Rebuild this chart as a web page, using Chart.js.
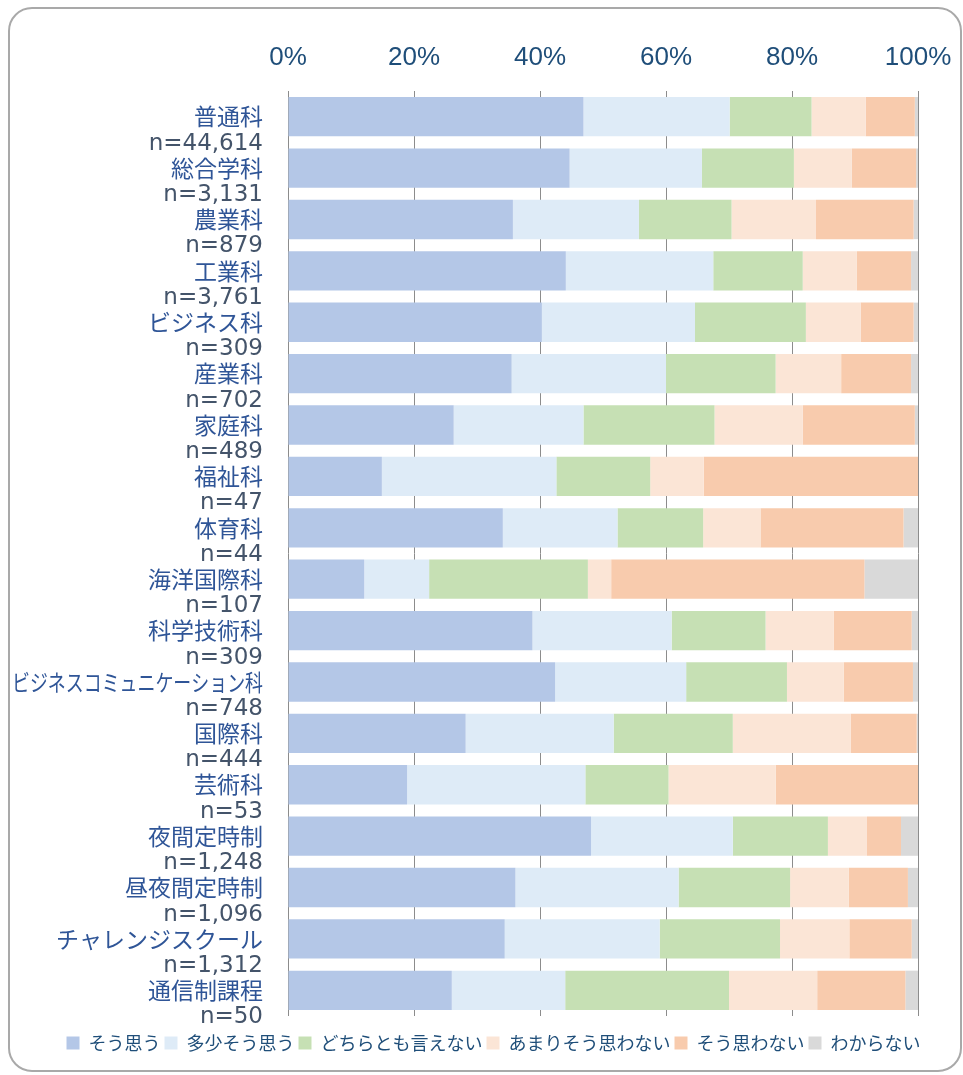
<!DOCTYPE html>
<html>
<head>
<meta charset="utf-8">
<script src="https://cdn.jsdelivr.net/npm/chart.js@4/dist/chart.umd.min.js"></script>
<style>
    html, body { margin: 0; padding: 0; background: #ffffff; }
    #frame {
        position: absolute; left: 8px; top: 7px; width: 954px; height: 1065px;
        box-sizing: border-box; border: 2px solid #a9a9a9; border-radius: 24px;
    }
    #chart { position: absolute; left: 0; top: 0; }
</style>
</head>
<body>
<div id="frame"></div>
<canvas id="chart" width="963" height="1075"></canvas>
<script>
    var categories = ['普通科', '総合学科', '農業科', '工業科', 'ビジネス科', '産業科', '家庭科', '福祉科', '体育科',
        '海洋国際科', '科学技術科', 'ビジネスコミュニケーション科', '国際科', '芸術科', '夜間定時制', '昼夜間定時制',
        'チャレンジスクール', '通信制課程'];
    var sampleSizes = [44614, 3131, 879, 3761, 309, 702, 489, 47, 44, 107, 309, 748, 444, 53, 1248, 1096, 1312, 50];

    var seriesLabels = ['そう思う', '多少そう思う', 'どちらとも言えない', 'あまりそう思わない', 'そう思わない', 'わからない'];

    // shares in percent, one value per category
    var souOmou = [46.9, 44.7, 35.7, 44.1, 40.3, 35.5, 26.3, 14.9, 34.1, 12.1, 38.8, 42.4, 28.2, 18.9, 48.1, 36.1, 34.4, 26.0];
    var tashouSouOmou = [23.2, 21.0, 20.0, 23.4, 24.3, 24.5, 20.6, 27.7, 18.2, 10.3, 22.1, 20.8, 23.5, 28.3, 22.5, 25.9, 24.6, 18.0];
    var dochiraTomo = [13.0, 14.6, 14.7, 14.2, 17.6, 17.4, 20.8, 14.9, 13.6, 25.2, 14.9, 16.0, 18.9, 13.2, 15.1, 17.7, 19.1, 26.0];
    var amariOmowanai = [8.6, 9.2, 13.4, 8.6, 8.7, 10.4, 14.0, 8.5, 9.1, 3.7, 10.8, 9.0, 18.7, 17.0, 6.2, 9.3, 11.0, 14.0];
    var souOmowanai = [7.8, 10.2, 15.5, 8.6, 8.4, 11.1, 17.8, 34.0, 22.7, 40.2, 12.4, 11.0, 10.5, 22.6, 5.4, 9.4, 9.9, 14.0];
    var wakaranai = [0.5, 0.3, 0.7, 1.1, 0.7, 1.1, 0.5, 0, 2.3, 8.5, 1.0, 0.8, 0.2, 0, 2.7, 1.6, 1.0, 2.0];

    var xTicks = [0, 20, 40, 60, 80, 100];

    var seriesValues = [souOmou, tashouSouOmou, dochiraTomo, amariOmowanai, souOmowanai, wakaranai];
    var seriesColors = ['#b4c7e7', '#deebf7', '#c6e0b4', '#fbe5d6', '#f8cbad', '#d9d9d9'];

    // two-line category labels: name, then sample size
    var categoryLabels = {
        id: 'categoryLabels',
        afterDraw: function (chart) {
            var ctx = chart.ctx;
            var yScale = chart.scales.y;
            var right = yScale.right - 25;

            ctx.save();
            ctx.textAlign = 'right';
            categories.forEach(function (name, i) {
                var y = yScale.getPixelForValue(i);

                ctx.font = "23px 'Noto Sans CJK JP'";
                ctx.fillStyle = '#2f5597';
                ctx.textBaseline = 'middle';
                ctx.fillText(name, right, y, right - 12);

                ctx.font = "23px 'DejaVu Sans'";
                ctx.fillStyle = '#44546a';
                ctx.textBaseline = 'alphabetic';
                ctx.fillText('n=' + sampleSizes[i].toLocaleString('en-US'), right, y + 33);
            });
            ctx.restore();
        }
    };

    new Chart(document.getElementById('chart'), {
        type: 'bar',
        data: {
            labels: categories,
            datasets: seriesLabels.map(function (label, i) {
                return {
                    label: label,
                    data: seriesValues[i],
                    backgroundColor: seriesColors[i],
                    borderWidth: 0,
                    barPercentage: 0.765,
                    categoryPercentage: 1
                };
            })
        },
        options: {
            indexAxis: 'y',
            responsive: false,
            animation: false,
            layout: {
                padding: { left: 24, top: 0, right: 0, bottom: 13 }
            },
            scales: {
                x: {
                    type: 'linear',
                    position: 'top',
                    stacked: true,
                    min: 0,
                    max: 100,
                    afterBuildTicks: function (scale) {
                        scale.ticks = xTicks.map(function (v) { return { value: v }; });
                    },
                    afterFit: function (scale) {
                        scale.height = 91;
                        // the end labels may hang past the plot edges
                        scale.paddingLeft = 0;
                        scale.paddingRight = 0;
                    },
                    grid: { color: '#8c8c8c', lineWidth: 1, drawTicks: false },
                    border: { display: false },
                    ticks: {
                        padding: 18,
                        color: '#1f4e79',
                        font: { family: "'Liberation Sans'", size: 26 },
                        callback: function (v) { return v + '%'; }
                    }
                },
                x2: {
                    type: 'linear',
                    axis: 'x',
                    position: 'bottom',
                    afterFit: function (scale) { scale.height = 14; },
                    grid: { display: false },
                    border: { display: false },
                    ticks: { display: false }
                },
                y: {
                    type: 'category',
                    stacked: true,
                    afterFit: function (scale) { scale.width = 264; },
                    grid: { display: false },
                    border: { display: false },
                    ticks: { display: false }
                },
                y2: {
                    type: 'linear',
                    axis: 'y',
                    position: 'right',
                    afterFit: function (scale) { scale.width = 45; },
                    grid: { display: false },
                    border: { display: false },
                    ticks: { display: false }
                }
            },
            plugins: {
                tooltip: { enabled: false },
                legend: {
                    position: 'bottom',
                    labels: {
                        boxWidth: 13,
                        boxHeight: 13,
                        padding: 4,
                        color: '#1f4e79',
                        font: { family: "'Noto Sans CJK JP'", size: 18 }
                    }
                }
            }
        },
        plugins: [categoryLabels]
    });
</script>
</body>
</html>
